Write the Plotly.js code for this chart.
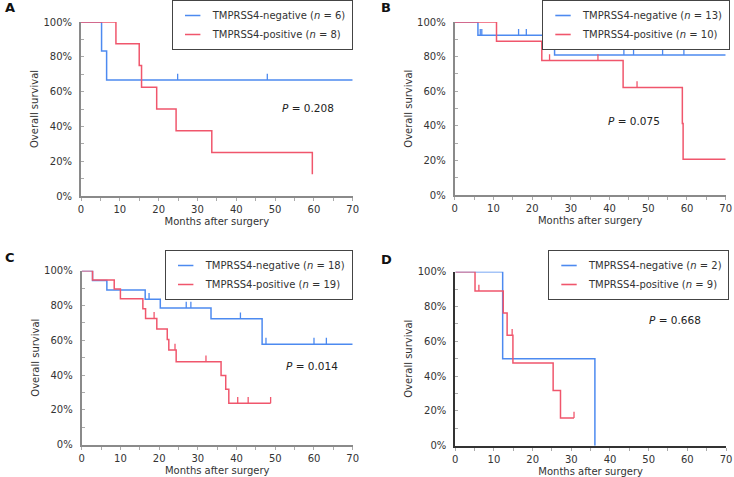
<!DOCTYPE html>
<html>
<head>
<meta charset="utf-8">
<script src="https://cdn.plot.ly/plotly-3.0.1.min.js"></script>
<style>html,body{margin:0;padding:0;background:#fff;}#chart{width:734px;height:477px;}</style>
</head>
<body>
<div id="chart"></div>
<script>
// ---------- data (months, survival %) ----------
const A_neg_t = [0, 5.3, 6.6, 70];
const A_neg_s = [100, 83.3, 66.7, 66.7];
const A_neg_c = [24.9, 48.0];
const A_pos_t = [0, 9.0, 15.0, 15.6, 19.5, 24.5, 33.7, 59.6];
const A_pos_s = [100, 87.5, 75, 62.5, 50, 37.5, 25, 12.5];
const A_pos_c = [];

const B_neg_t = [0, 6.0, 25.8, 70];
const B_neg_s = [100, 92.3, 81.0, 81.0];
const B_neg_c = [6.6, 7.0, 16.5, 18.5, 43.7, 46.2, 53.7, 59.2];
const B_pos_t = [0, 10.8, 22.5, 43.5, 58.8, 59.0, 70];
const B_pos_s = [100, 88.9, 77.8, 62.2, 41.5, 20.8, 20.8];
const B_pos_c = [24.5, 37.0, 47.1];

const C_neg_t = [0, 2.8, 6.5, 16.4, 20.3, 33.4, 46.6, 70];
const C_neg_s = [100, 94.4, 88.9, 83.6, 78.6, 72.4, 57.8, 57.8];
const C_neg_c = [17.4, 27.0, 28.2, 41.0, 47.6, 60.0, 63.2];
const C_pos_t = [0, 2.8, 8.4, 10.0, 15.8, 16.5, 19.4, 22.1, 22.5, 24.4, 36.0, 37.2, 38.0, 48.8];
const C_pos_s = [100, 94.7, 89.5, 83.9, 78.2, 72.6, 66.5, 60.5, 54.4, 47.7, 39.7, 31.8, 23.8, 23.8];
const C_pos_c = [18.7, 24.1, 32.1, 40.3, 43.0, 48.8];

const D_neg_t = [0, 12.25, 36.1];
const D_neg_s = [100, 50, 0];
const D_neg_c = [];
const D_pos_t = [0, 5.1, 12.4, 13.4, 14.9, 25.3, 27.2, 30.7];
const D_pos_s = [100, 88.9, 76.2, 63.5, 47.6, 31.7, 15.9, 15.9];
const D_pos_c = [6.1, 14.7, 30.7];

const panelLetters = ['A', 'B', 'C', 'D'];
const negN = [6, 13, 18, 2];
const posN = [8, 10, 19, 9];
const pValues = ['0.208', '0.075', '0.014', '0.668'];
const xTitle = 'Months after surgery';
const yTitle = 'Overall survival';

// ---------- styling / layout ----------
const W = 734, H = 477;
const BLUE = '#4d8af0', RED = '#f0566c';
const FONT = 'DejaVu Sans, Verdana, sans-serif';
const boxes = [
  {x0: 81, x1: 352.7, yt: 22, yb: 196, axis: '#8a8a8a', leg: [352.7, 0], p: [58.5, 50.4], let: [3, 8]},
  {x0: 454.7, x1: 725.7, yt: 22, yb: 195.3, axis: '#8a8a8a', leg: [730, 0], p: [46.3, 42.9], let: [379, 8]},
  {x0: 81.7, x1: 352.7, yt: 270.7, yb: 444.7, axis: '#8a8a8a', leg: [352.7, 250], p: [59.6, 45], let: [3, 257]},
  {x0: 455.3, x1: 726, yt: 271.7, yb: 445.7, axis: '#333333', leg: [729, 250], p: [56.7, 72.4], let: [379, 259]}
];
const groups = [
  [A_neg_t, A_neg_s, A_neg_c, A_pos_t, A_pos_s, A_pos_c],
  [B_neg_t, B_neg_s, B_neg_c, B_pos_t, B_pos_s, B_pos_c],
  [C_neg_t, C_neg_s, C_neg_c, C_pos_t, C_pos_s, C_pos_c],
  [D_neg_t, D_neg_s, D_neg_c, D_pos_t, D_pos_s, D_pos_c]
];

function levelAt(T, S, t) {
  let v = S[0];
  for (let i = 0; i < T.length; i++) if (T[i] <= t) v = S[i];
  return v;
}

const traces = [];
const layout = {
  width: W, height: H,
  margin: {l: 0, r: 0, t: 0, b: 0},
  paper_bgcolor: '#fff', plot_bgcolor: '#fff',
  showlegend: true,
  font: {family: FONT, size: 10, color: '#333'},
  annotations: []
};

boxes.forEach((b, k) => {
  const sfx = k === 0 ? '' : String(k + 1);
  const xa = 'x' + sfx, ya = 'y' + sfx;
  const legName = 'legend' + sfx;
  const g = groups[k];
  const series = [
    {t: g[0], s: g[1], c: g[2], color: BLUE, name: 'TMPRSS4-negative (<i>n</i> = ' + negN[k] + ')'},
    {t: g[3], s: g[4], c: g[5], color: RED, name: 'TMPRSS4-positive (<i>n</i> = ' + posN[k] + ')'}
  ];
  series.forEach(se => {
    traces.push({
      type: 'scatter', mode: 'lines', x: se.t, y: se.s, xaxis: xa, yaxis: ya,
      line: {color: se.color, width: 1.5, shape: 'hv'}, showlegend: false,
      cliponaxis: false, hoverinfo: 'skip'
    });
    if (se.c.length) {
      traces.push({
        type: 'scatter', mode: 'markers', x: se.c, y: se.c.map(t => levelAt(se.t, se.s, t)),
        xaxis: xa, yaxis: ya, showlegend: false, cliponaxis: false, hoverinfo: 'skip',
        marker: {size: 1, color: 'rgba(0,0,0,0)'},
        error_y: {type: 'data', symmetric: false, array: se.c.map(() => 3.6),
                  arrayminus: se.c.map(() => 0), color: se.color, thickness: 1.3, width: 0}
      });
    }
    // legend entry
    traces.push({
      type: 'scatter', mode: 'markers', x: [null], y: [null], xaxis: xa, yaxis: ya,
      name: se.name, legend: legName, showlegend: true,
      marker: {symbol: 'line-ew', size: 11, color: se.color, line: {color: se.color, width: 1.6}}
    });
  });

  layout['xaxis' + sfx] = {
    domain: [b.x0 / W, b.x1 / W], anchor: ya, range: [0, 70], tick0: 0, dtick: 10,
    ticks: 'outside', ticklen: 3, tickcolor: '#aaa', tickwidth: 1,
    showline: true, linecolor: b.axis, linewidth: 2, showgrid: false, zeroline: false,
    tickfont: {family: FONT, size: 10, color: '#333'},
    minor: {dtick: 5, ticks: 'outside', ticklen: 3, tickcolor: '#aaa', showgrid: false},
    title: {text: xTitle, font: {family: FONT, size: 10, color: '#333'}, standoff: 4},
    fixedrange: true
  };
  layout['yaxis' + sfx] = {
    domain: [1 - b.yb / H, 1 - b.yt / H], anchor: xa, range: [0, 100], tick0: 0, dtick: 20,
    ticksuffix: '%', ticks: 'inside', ticklen: 3, tickcolor: '#aaa', tickwidth: 1,
    showline: true, linecolor: b.axis, linewidth: 2, showgrid: false, zeroline: false,
    tickfont: {family: FONT, size: 10, color: '#333'}, ticklabelstandoff: 5,
    minor: {dtick: 10, ticks: 'inside', ticklen: 3, tickcolor: '#aaa', showgrid: false},
    title: {text: yTitle, font: {family: FONT, size: 10, color: '#333'}, standoff: 3},
    fixedrange: true
  };
  layout[legName] = {
    x: b.leg[0] / W, y: 1 - b.leg[1] / H, xanchor: 'right', yanchor: 'top',
    xref: 'paper', yref: 'paper',
    bgcolor: '#fff', bordercolor: '#444', borderwidth: 1,
    font: {family: FONT, size: 10, color: '#333'}, itemclick: false, itemdoubleclick: false
  };
  layout.annotations.push({
    xref: xa, yref: ya, x: b.p[0], y: b.p[1], showarrow: false,
    text: '<i>P</i> = ' + pValues[k], font: {family: FONT, size: 10.5, color: '#222'}
  });
  layout.annotations.push({
    xref: 'paper', yref: 'paper', x: b.let[0] / W, y: 1 - b.let[1] / H,
    xanchor: 'left', yanchor: 'middle', showarrow: false,
    text: '<b>' + panelLetters[k] + '</b>', font: {family: FONT, size: 13, color: '#111'}
  });
});

Plotly.newPlot('chart', traces, layout, {staticPlot: true, displayModeBar: false});
</script>
</body>
</html>
